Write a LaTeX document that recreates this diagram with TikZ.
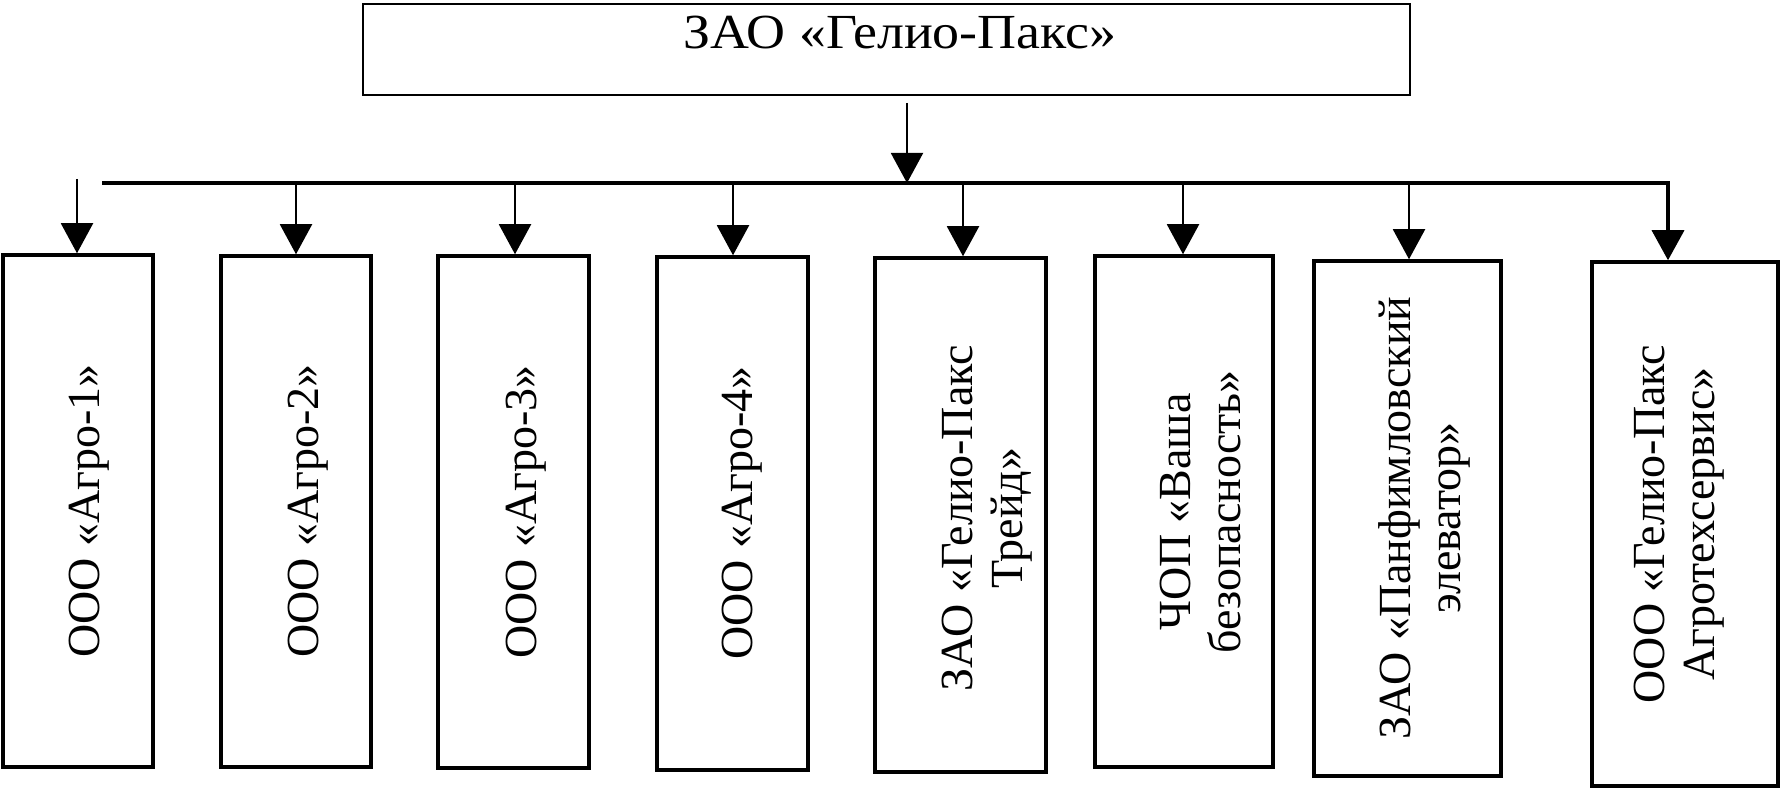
\documentclass[tikz,border=0pt]{standalone}
\usepackage{fontspec}
\setmainfont{Liberation Serif}
\usetikzlibrary{arrows.meta,fit}
\begin{document}
\begin{tikzpicture}[x=0.5pt,y=0.5pt,
  unitbox/.style={draw, line width=1.75pt, inner sep=0pt, fit={#1}},
  headbox/.style={draw, line width=1pt, inner sep=0pt, fit={#1}},
  vlabel/.style={rotate=90, align=center, inner sep=0pt, anchor=center,
    font=\fontsize{23}{25}\selectfont},
  conn/.style={line width=1pt, -{Triangle[width=16pt,length=15pt]}},
  busline/.style={line width=1.75pt}
]
\useasboundingbox (0,0) rectangle (1783,-791);

% head box
\node[headbox={(363,-4)(1410,-95)}] (head) {};
\node[anchor=base, inner sep=0pt, font=\fontsize{24.5}{26}\selectfont] (ttl) at (900,-49) {\scalebox{1.1}[1]{ЗАО «Гелио-Пакс»}};

% unit boxes
\node[unitbox={(3,-255)(153,-767)}] (b1) {};
\node[unitbox={(221,-256)(371,-767)}] (b2) {};
\node[unitbox={(438,-256)(589,-768)}] (b3) {};
\node[unitbox={(657,-257)(808,-770)}] (b4) {};
\node[unitbox={(875,-258)(1046,-772)}] (b5) {};
\node[unitbox={(1095,-256)(1273,-767)}] (b6) {};
\node[unitbox={(1314,-261)(1501,-776)}] (b7) {};
\node[unitbox={(1592,-262)(1778,-786)}] (b8) {};

% labels
\node[vlabel] (t1) at (89,-511) {ООО «Агро-1»};
\node[vlabel] (t2) at (308,-511) {ООО «Агро-2»};
\node[vlabel] (t3) at (526,-512) {ООО «Агро-3»};
\node[vlabel] (t4) at (742,-513) {ООО «Агро-4»};
\node[vlabel] (t5) at (987,-518) {ЗАО «Гелио-Пакс\\Трейд»};
\node[vlabel] (t6) at (1200,-512) {ЧОП «Ваша\\безопасность»};
\node[vlabel] (t7) at (1424,-518) {ЗАО «Панфимловский\\элеватор»};
\node[vlabel] (t8) at (1679,-524) {ООО «Гелио-Пакс\\Агротехсервис»};

% connectors
\coordinate (m0) at (907,-103);
\coordinate (busL) at (102,-183);
\coordinate (busR) at (1668,-183);
\coordinate (s1) at (77,-179);
\draw[conn] (m0) -- (m0 |- busL);
\draw[busline, -{Triangle[width=16pt,length=15pt]}] (busL) -- (busR) -- (busR |- b8.north);
\draw[conn] (s1) -- (s1 |- b1.north);
\foreach \i/\xx in {2/296,3/515,4/733,5/963,6/1183,7/1409}{
  \coordinate (s\i) at (\xx,-183);
  \draw[conn] (s\i) -- (s\i |- b\i.north);
}
\end{tikzpicture}
\end{document}
